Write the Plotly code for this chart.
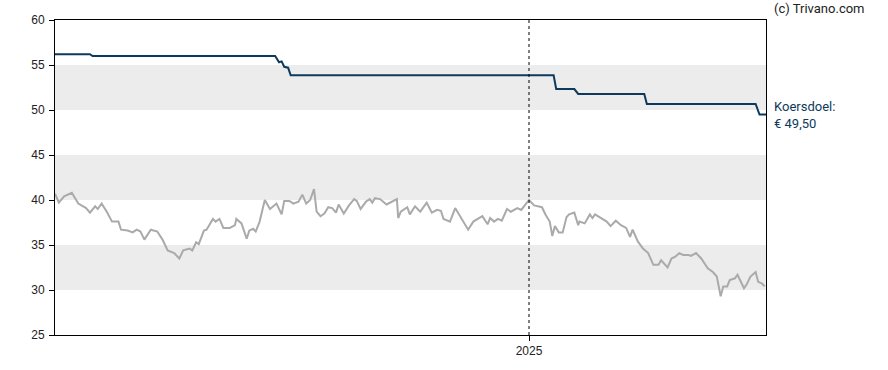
import plotly.graph_objects as go

price_dates = [
    "2024-01-01", "2024-01-04", "2024-01-08", "2024-01-14", "2024-01-19", "2024-01-23", "2024-01-25",
    "2024-01-28", "2024-02-01", "2024-02-03", "2024-02-06", "2024-02-10", "2024-02-14", "2024-02-19",
    "2024-02-21", "2024-02-26", "2024-03-01", "2024-03-04", "2024-03-07", "2024-03-10", "2024-03-15",
    "2024-03-20", "2024-03-24", "2024-03-28", "2024-04-02", "2024-04-06", "2024-04-09", "2024-04-14",
    "2024-04-16", "2024-04-19", "2024-04-21", "2024-04-25", "2024-04-27", "2024-05-02", "2024-05-04",
    "2024-05-07", "2024-05-10", "2024-05-15", "2024-05-19", "2024-05-20", "2024-05-24", "2024-05-28",
    "2024-05-30", "2024-06-02", "2024-06-04", "2024-06-07", "2024-06-11", "2024-06-15", "2024-06-20",
    "2024-06-24", "2024-06-26", "2024-06-30", "2024-07-03", "2024-07-07", "2024-07-10", "2024-07-13",
    "2024-07-16", "2024-07-19", "2024-07-21", "2024-07-24", "2024-07-27", "2024-07-30", "2024-08-02",
    "2024-08-05", "2024-08-07", "2024-08-11", "2024-08-15", "2024-08-19", "2024-08-21", "2024-08-24",
    "2024-08-28", "2024-08-31", "2024-09-02", "2024-09-04", "2024-09-08", "2024-09-13", "2024-09-18",
    "2024-09-21", "2024-09-22", "2024-09-24", "2024-09-29", "2024-10-01", "2024-10-05", "2024-10-09",
    "2024-10-14", "2024-10-18", "2024-10-22", "2024-10-25", "2024-10-27", "2024-11-01", "2024-11-05",
    "2024-11-10", "2024-11-15", "2024-11-19", "2024-11-23", "2024-11-26", "2024-11-30", "2024-12-02",
    "2024-12-05", "2024-12-08", "2024-12-11", "2024-12-15", "2024-12-18", "2024-12-23", "2024-12-26",
    "2025-01-01", "2025-01-05", "2025-01-08", "2025-01-11", "2025-01-14", "2025-01-17", "2025-01-19",
    "2025-01-21", "2025-01-24", "2025-01-27", "2025-01-30", "2025-02-01", "2025-02-05", "2025-02-08",
    "2025-02-09", "2025-02-13", "2025-02-17", "2025-02-19", "2025-02-21", "2025-02-26", "2025-03-02",
    "2025-03-05", "2025-03-09", "2025-03-13", "2025-03-17", "2025-03-20", "2025-03-22", "2025-03-26",
    "2025-03-30", "2025-04-03", "2025-04-07", "2025-04-11", "2025-04-13", "2025-04-18", "2025-04-21",
    "2025-04-24", "2025-04-27", "2025-04-30", "2025-05-04", "2025-05-06", "2025-05-10", "2025-05-14",
    "2025-05-19", "2025-05-23", "2025-05-26", "2025-05-29", "2025-05-31", "2025-06-03", "2025-06-05",
    "2025-06-09", "2025-06-11", "2025-06-16", "2025-06-18", "2025-06-21", "2025-06-25", "2025-06-27",
    "2025-06-30", "2025-07-02",
]
price_values = [
    40.7, 39.7, 40.4, 40.8, 39.6, 39.2, 39.1,
    38.6, 39.3, 39.0, 39.6, 38.7, 37.6, 37.6,
    36.7, 36.6, 36.4, 36.7, 36.5, 35.6, 36.7,
    36.5, 35.6, 34.4, 34.1, 33.5, 34.4, 34.6,
    34.4, 35.3, 35.1, 36.6, 36.7, 37.9, 37.6,
    37.9, 36.9, 36.9, 37.2, 37.9, 37.4, 35.7,
    36.6, 36.8, 36.5, 37.6, 40.0, 39.0, 39.6,
    38.4, 39.9, 39.9, 39.6, 39.8, 40.6, 39.6,
    40.0, 41.2, 38.7, 38.2, 38.5, 39.2, 39.1,
    38.6, 39.5, 38.5, 39.4, 40.1, 39.9, 39.0,
    39.8, 40.1, 39.7, 40.2, 40.1, 39.5, 39.9,
    40.1, 38.0, 38.7, 39.2, 38.4, 39.3, 38.7,
    39.7, 38.6, 38.9, 38.8, 37.9, 37.6, 39.1,
    37.9, 36.7, 37.6, 38.0, 38.2, 37.3, 38.0,
    37.6, 37.9, 37.7, 39.0, 38.7, 39.1, 38.9,
    40.0, 39.4, 39.3, 39.2, 38.3, 37.6, 36.0,
    37.1, 36.4, 36.4, 38.1, 38.4, 38.6, 37.2,
    37.6, 37.4, 38.4, 38.0, 38.4, 38.0, 37.6,
    37.1, 37.7, 37.2, 36.9, 35.9, 36.7, 35.4,
    34.6, 34.1, 32.8, 32.8, 33.3, 32.5, 33.5,
    33.7, 34.1, 33.9, 33.9, 33.8, 34.1, 33.5,
    32.4, 32.0, 31.5, 29.3, 30.4, 30.4, 31.1,
    31.3, 31.7, 30.2, 30.6, 31.5, 32.0, 30.9,
    30.7, 30.4,
]

target_dates = [
    "2024-01-01", "2024-01-28", "2024-01-30", "2024-06-19", "2024-06-22", "2024-06-24",
    "2024-06-26", "2024-06-29", "2024-07-01", "2025-01-20", "2025-01-22", "2025-02-05",
    "2025-02-08", "2025-03-31", "2025-04-02", "2025-06-25", "2025-06-28", "2025-07-03",
]
target_values = [
    56.2, 56.2, 56.0, 56.0, 55.3, 55.4,
    54.8, 54.7, 53.85, 53.85, 52.33, 52.33,
    51.78, 51.78, 50.67, 50.67, 49.5, 49.5,
]

y_ticks = [25, 30, 35, 40, 45, 50, 55, 60]
bands = [(30, 35), (40, 45), (50, 55)]
x_range = ["2024-01-01", "2025-07-03"]
year_tick = "2025-01-01"
target_label = "Koersdoel:<br>€ 49,50"
credit = "(c) Trivano.com"

fig = go.Figure()

fig.add_trace(go.Scatter(
    x=price_dates, y=price_values, mode="lines",
    line=dict(color="#aaaaaa", width=2), hoverinfo="skip", showlegend=False,
))
fig.add_trace(go.Scatter(
    x=target_dates, y=target_values, mode="lines",
    line=dict(color="#0d3a5c", width=2), hoverinfo="skip", showlegend=False,
))

for lo, hi in bands:
    fig.add_shape(type="rect", xref="paper", yref="y", x0=0, x1=1, y0=lo, y1=hi,
                  fillcolor="#ececec", line=dict(width=0), layer="below")

fig.add_shape(type="line", xref="x", yref="paper", x0=year_tick, x1=year_tick, y0=0, y1=1,
              line=dict(color="#000000", width=1, dash="dot"))

fig.add_annotation(text=credit, xref="paper", yref="paper", x=1, y=1, xshift=6, yshift=12,
                   xanchor="left", yanchor="middle", showarrow=False,
                   font=dict(family="Roboto", size=13, color="#222222"))
fig.add_annotation(text=target_label, xref="paper", yref="y", x=1, y=target_values[-1],
                   xshift=6, xanchor="left", yanchor="middle", align="left", showarrow=False,
                   font=dict(family="Roboto", size=13, color="#0d3a5c"))

fig.update_layout(
    width=888, height=370,
    margin=dict(l=55, r=122, t=20, b=35, autoexpand=False),
    paper_bgcolor="white", plot_bgcolor="white",
    font=dict(family="Liberation Sans, Arial", size=12, color="#222222"),
    xaxis=dict(
        type="date", range=x_range, tickvals=[year_tick], ticktext=["2025"],
        showgrid=False, zeroline=False, showline=True, linecolor="#000000", linewidth=1,
        mirror=True, ticks="outside", ticklen=5, tickcolor="#000000",
        tickfont=dict(size=12, color="#222222"), automargin=False,
    ),
    yaxis=dict(
        range=[25, 60], tickvals=y_ticks, showgrid=False, zeroline=False,
        showline=True, linecolor="#000000", linewidth=1, mirror=True,
        ticks="outside", ticklen=5, tickcolor="#000000", ticklabelstandoff=2,
        tickfont=dict(size=12, color="#222222"), automargin=False,
    ),
)

fig.write_html("out.html", config={"displayModeBar": False},
               post_script="document.body.style.margin='0';")
